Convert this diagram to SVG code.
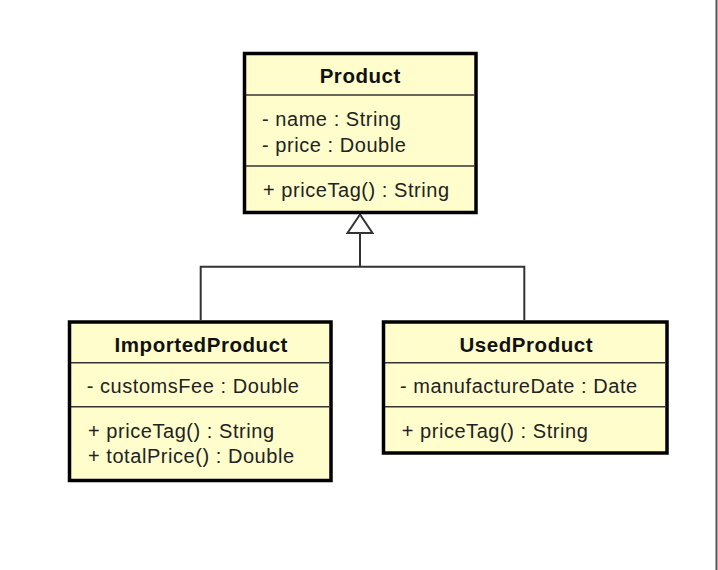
<svg xmlns="http://www.w3.org/2000/svg" width="718" height="570" viewBox="0 0 718 570">
  <style>
    .box { fill: #fffdcc; stroke: #000000; stroke-width: 3.5; }
    .div { stroke: #333333; stroke-width: 1.5; fill: none; }
    .title { font-family: "Liberation Sans", Arial, sans-serif; font-size: 20.5px; font-weight: bold; fill: #111111; text-anchor: middle; letter-spacing: 0.55px; }
    .member { font-family: "Liberation Sans", Arial, sans-serif; font-size: 20px; fill: #222222; letter-spacing: 0.55px; }
    .conn { stroke: #333333; stroke-width: 2; fill: none; }
    .tri { stroke: #333333; stroke-width: 2; fill: #ffffff; }
  </style>
  <rect x="0" y="0" width="718" height="570" fill="#ffffff"/>
  <line x1="716.5" y1="0" x2="716.5" y2="570" stroke="#555555" stroke-width="2"/>

  <g id="connectors">
    <polyline class="conn" points="200.7,320 200.7,266.7 524.3,266.7 524.3,320"/>
    <line class="conn" x1="360" y1="266.7" x2="360" y2="233"/>
    <polygon class="tri" points="360,214.5 347.5,233 372.5,233"/>
  </g>

  <g id="Product">
    <rect class="box" x="244.5" y="53.5" width="231.5" height="159"/>
    <line class="div" x1="246" y1="95" x2="474.5" y2="95"/>
    <line class="div" x1="246" y1="166" x2="474.5" y2="166"/>
    <text class="title" x="360.3" y="83.3">Product</text>
    <text class="member" x="262" y="125.5">- name : String</text>
    <text class="member" x="262" y="151.5">- price : Double</text>
    <text class="member" x="263" y="196.5">+ priceTag() : String</text>
  </g>

  <g id="ImportedProduct">
    <rect class="box" x="69.5" y="322" width="261.5" height="158.5"/>
    <line class="div" x1="71" y1="362.7" x2="329.5" y2="362.7"/>
    <line class="div" x1="71" y1="406.7" x2="329.5" y2="406.7"/>
    <text class="title" x="201.3" y="351.7">ImportedProduct</text>
    <text class="member" x="86.7" y="393.3">- customsFee : Double</text>
    <text class="member" x="88" y="438">+ priceTag() : String</text>
    <text class="member" x="88" y="463">+ totalPrice() : Double</text>
  </g>

  <g id="UsedProduct">
    <rect class="box" x="383.5" y="322" width="283.5" height="131"/>
    <line class="div" x1="385" y1="362.7" x2="665.5" y2="362.7"/>
    <line class="div" x1="385" y1="406.7" x2="665.5" y2="406.7"/>
    <text class="title" x="526.3" y="351.7">UsedProduct</text>
    <text class="member" x="400" y="393.3">- manufactureDate : Date</text>
    <text class="member" x="401.7" y="438">+ priceTag() : String</text>
  </g>
</svg>
